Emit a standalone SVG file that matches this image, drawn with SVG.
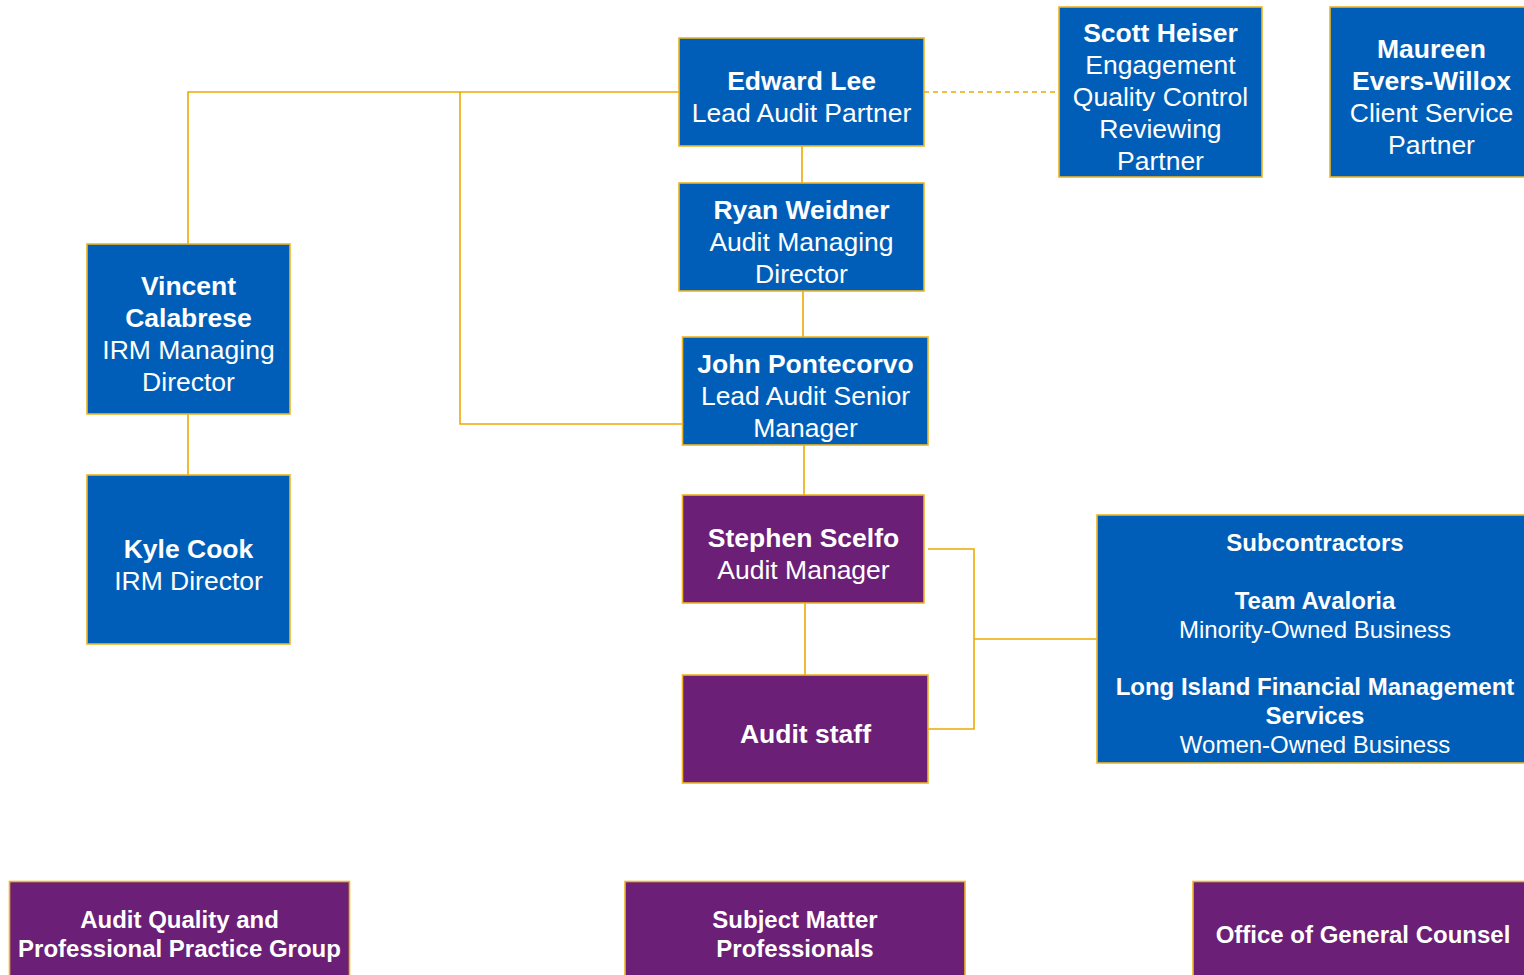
<svg xmlns="http://www.w3.org/2000/svg" width="1524" height="975" viewBox="0 0 1524 975">
<style>
.blue{fill:#005EB8;stroke:#EEB524;stroke-width:1.6}
.purple{fill:#6B1F76;stroke:#EEB524;stroke-width:1.6}
.conn{fill:none;stroke:#EDAA00;stroke-width:1.6}
.dash{stroke-dasharray:5 4}
text{font-family:"Liberation Sans",Arial,sans-serif;fill:#FFFFFF;text-anchor:middle}
.t{font-size:26.5px}
.s{font-size:24px}
.b{font-weight:bold}
</style>
<rect width="1524" height="975" fill="#FFFFFF"/>
<g id="connectors">
<path class="conn" d="M679 92 H188 V244"/>
<path class="conn" d="M460 92 V424 H682"/>
<path class="conn dash" d="M924 92 H1059"/>
<path class="conn" d="M802 146 V183"/>
<path class="conn" d="M803 291 V337"/>
<path class="conn" d="M804 445 V495"/>
<path class="conn" d="M805 603 V675"/>
<path class="conn" d="M188 414 V475"/>
<path class="conn" d="M928 549 H974 V729 H928"/>
<path class="conn" d="M974 639 H1097"/>
</g>
<g id="edward-lee">
<rect class="blue" x="679" y="38" width="245" height="108"/>
<text class="t b" x="801.5" y="90">Edward Lee</text>
<text class="t" x="801.5" y="122">Lead Audit Partner</text>
</g>
<g id="scott-heiser">
<rect class="blue" x="1059" y="7" width="203" height="170"/>
<text class="t b" x="1160.5" y="42">Scott Heiser</text>
<text class="t" x="1160.5" y="74">Engagement</text>
<text class="t" x="1160.5" y="106">Quality Control</text>
<text class="t" x="1160.5" y="138">Reviewing</text>
<text class="t" x="1160.5" y="170">Partner</text>
</g>
<g id="maureen-evers-willox">
<rect class="blue" x="1330" y="7" width="203" height="170"/>
<text class="t b" x="1431.5" y="58">Maureen</text>
<text class="t b" x="1431.5" y="90">Evers-Willox</text>
<text class="t" x="1431.5" y="122">Client Service</text>
<text class="t" x="1431.5" y="154">Partner</text>
</g>
<g id="ryan-weidner">
<rect class="blue" x="679" y="183" width="245" height="108"/>
<text class="t b" x="801.5" y="219">Ryan Weidner</text>
<text class="t" x="801.5" y="251">Audit Managing</text>
<text class="t" x="801.5" y="283">Director</text>
</g>
<g id="john-pontecorvo">
<rect class="blue" x="682.5" y="337" width="245.5" height="108"/>
<text class="t b" x="805.5" y="373">John Pontecorvo</text>
<text class="t" x="805.5" y="405">Lead Audit Senior</text>
<text class="t" x="805.5" y="437">Manager</text>
</g>
<g id="vincent-calabrese">
<rect class="blue" x="87" y="244" width="203" height="170"/>
<text class="t b" x="188.5" y="295">Vincent</text>
<text class="t b" x="188.5" y="327">Calabrese</text>
<text class="t" x="188.5" y="359">IRM Managing</text>
<text class="t" x="188.5" y="391">Director</text>
</g>
<g id="kyle-cook">
<rect class="blue" x="87" y="475" width="203" height="169"/>
<text class="t b" x="188.5" y="558">Kyle Cook</text>
<text class="t" x="188.5" y="590">IRM Director</text>
</g>
<g id="stephen-scelfo">
<rect class="purple" x="682.5" y="495" width="241.5" height="108"/>
<text class="t b" x="803.5" y="547">Stephen Scelfo</text>
<text class="t" x="803.5" y="579">Audit Manager</text>
</g>
<g id="audit-staff">
<rect class="purple" x="682.5" y="675" width="245.5" height="108"/>
<text class="t b" x="805.5" y="743">Audit staff</text>
</g>
<g id="subcontractors">
<rect class="blue" x="1097" y="515" width="436" height="248"/>
<text class="s b" x="1315" y="551">Subcontractors</text>
<text class="s b" x="1315" y="609">Team Avaloria</text>
<text class="s" x="1315" y="638">Minority-Owned Business</text>
<text class="s b" x="1315" y="695">Long Island Financial Management</text>
<text class="s b" x="1315" y="724">Services</text>
<text class="s" x="1315" y="753">Women-Owned Business</text>
</g>
<g id="audit-quality">
<rect class="purple" x="9.5" y="881.5" width="340" height="100"/>
<text class="s b" x="179.5" y="928">Audit Quality and</text>
<text class="s b" x="179.5" y="957">Professional Practice Group</text>
</g>
<g id="subject-matter">
<rect class="purple" x="625" y="881.5" width="340" height="100"/>
<text class="s b" x="795" y="928">Subject Matter</text>
<text class="s b" x="795" y="957">Professionals</text>
</g>
<g id="general-counsel">
<rect class="purple" x="1193" y="881.5" width="340" height="100"/>
<text class="s b" x="1363" y="943">Office of General Counsel</text>
</g>
</svg>
